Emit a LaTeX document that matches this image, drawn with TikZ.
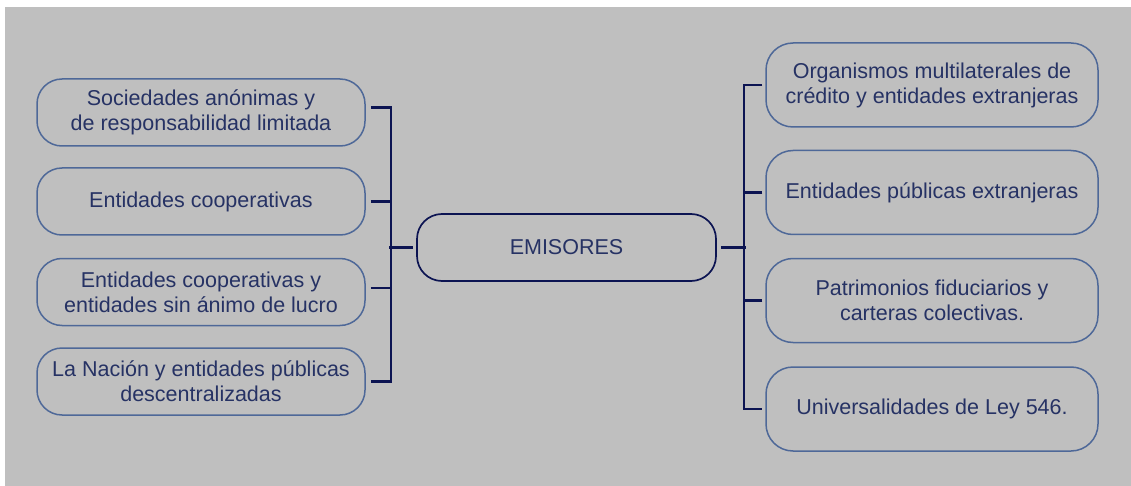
\documentclass[tikz,border=0pt]{standalone}
\usepackage{fontspec}
\setmainfont{Liberation Sans}
\usepackage{tikz}

\definecolor{panelgray}{RGB}{191,191,191}
\definecolor{boxline}{RGB}{78,104,152}
\definecolor{boxtext}{RGB}{38,50,100}
\definecolor{busline}{RGB}{12,20,82}

\begin{document}
\begin{tikzpicture}[x=1pt,y=-1pt,
    item/.style={draw=boxline,line width=1.5pt,text=boxtext,align=center,
      font=\fontsize{21.5}{25}\selectfont,inner sep=0pt},
    leftitem/.style={item,minimum width=328pt,minimum height=67pt,rounded corners=25pt},
    rightitem/.style={item,minimum width=332pt,minimum height=84pt,rounded corners=27pt},
    hub/.style={item,draw=busline,line width=1.7pt,minimum width=299pt,minimum height=67pt,rounded corners=25pt},
    bus/.style={draw=busline,line width=2.3pt}]
    \useasboundingbox (0,0) rectangle (1131,486);
    \fill[panelgray] (5,7) rectangle (1131,486);
    \node[hub] (em) at (566.5,247.5) {EMISORES};
    \node[leftitem] (l1) at (201,112.5) {Sociedades anónimas y\\de responsabilidad limitada};
    \node[leftitem] (l2) at (201,201.5) {Entidades cooperativas};
    \node[leftitem] (l3) at (201,292) {Entidades cooperativas y\\entidades sin ánimo de lucro};
    \node[leftitem] (l4) at (201,381.5) {La Nación y entidades públicas\\descentralizadas};
    \node[rightitem] (r1) at (932,85) {Organismos multilaterales de\\crédito y entidades extranjeras};
    \node[rightitem] (r2) at (932,192.5) {Entidades públicas extranjeras};
    \node[rightitem] (r3) at (932,300.5) {Patrimonios fiduciarios y\\carteras colectivas.};
    \node[rightitem] (r4) at (932,409) {Universalidades de Ley 546.};
    % left bracket
    \draw[bus] ([xshift=5pt,yshift=5pt]l1.east) -| ([xshift=25pt]l4.east) -- ([xshift=5pt]l4.east);
    \draw[bus] ([xshift=5pt]l2.east) -- ([xshift=25pt]l2.east);
    \draw[bus] ([xshift=5pt,yshift=4pt]l3.east) -- ([xshift=25pt,yshift=4pt]l3.east);
    \draw[bus] ([xshift=-3pt]em.west) -- ([xshift=-27pt]em.west);
    % right bracket
    \draw[bus] ([xshift=-3pt]r1.west) -| ([xshift=-21pt]r4.west) -- ([xshift=-3pt]r4.west);
    \draw[bus] ([xshift=-3pt]r2.west) -- ([xshift=-21pt]r2.west);
    \draw[bus] ([xshift=-3pt]r3.west) -- ([xshift=-21pt]r3.west);
    \draw[bus] ([xshift=4pt]em.east) -- ([xshift=29pt]em.east);
\end{tikzpicture}
\end{document}
